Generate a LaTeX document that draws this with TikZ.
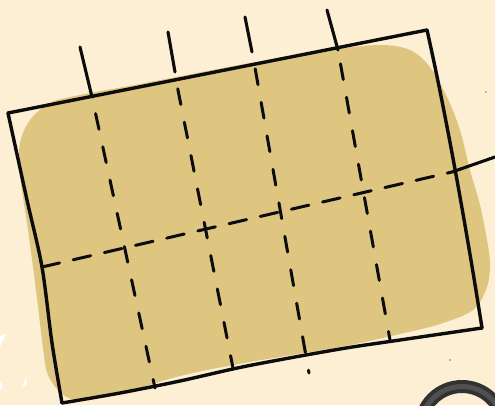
\documentclass[tikz,border=0pt]{standalone}
\definecolor{bgc}{RGB}{253,239,212}
\definecolor{blobc}{RGB}{222,198,128}
\definecolor{inkc}{RGB}{12,12,12}
\definecolor{ringc}{RGB}{50,50,50}
\definecolor{ringhi}{RGB}{100,100,100}
\begin{document}
\begin{tikzpicture}[x=1pt,y=-1pt,
  frameline/.style={draw=inkc, line width=3.4pt, line cap=round, line join=round},
  tickline/.style={draw=inkc, line width=3.1pt, line cap=round},
  dashv/.style={draw=inkc, line width=3pt, line cap=round, dash pattern=on 16pt off 18pt, dash phase=17pt},
  dashh/.style={draw=inkc, line width=3pt, line cap=round, dash pattern=on 18pt off 14pt}]
\fill[bgc] (0,0) rectangle (495,405);
\useasboundingbox (0,0) rectangle (495,405);

% tan blob
\fill[blobc] plot[smooth cycle, tension=0.55] coordinates {
 (70,97) (150,82) (250,63) (330,50) (380,45) (410,50) (430,67) (447,97)
 (460,130) (470,170) (480,205) (487,240) (490,263) (487,287) (473,310)
 (440,324) (400,334) (340,347) (250,362) (180,376) (120,394) (80,400)
 (62,394) (48,375) (43,348) (36,290) (28,230) (20,175) (20,143) (30,120) (48,104)};

% specks
\fill[gray] (450,360) circle (0.8);
\fill[gray] (486,92) circle (0.8);

% white marks bottom-left
\fill[white] (0,336) -- (7,333) -- (2,342) -- (0,347) -- cycle;
\fill[white] (0,380) -- (3,386) -- (0,391) -- cycle;
\fill[white] (26,376) -- (27,384) -- (22,388) -- (24,382) -- cycle;

% frame
\coordinate (tl) at (8,113);
\coordinate (tr) at (427,30);
\coordinate (br) at (482,328);
\coordinate (bl) at (62,403);
\draw[frameline] (tl) -- (tr);
\draw[frameline] (tr) .. controls (445,110) and (465,220) .. (br);
\draw[frameline] plot[smooth] coordinates {(482,328) (400,340) (340,349) (247,366) (180,381) (120,393) (62,403)};
\draw[frameline] plot[smooth] coordinates {(62,403) (52,343) (42,267) (27,200) (8,113)};

% top ticks
\draw[tickline] (80,47) -- (92,97);
\draw[tickline] (168,32) -- (175,72);
\draw[tickline] (245,17) -- (252,52);
\draw[tickline] (327,10) -- (338,50);

% vertical dashed lines
\draw[dashv] (92,97) -- (155,388);
\draw[dashv, dash phase=25pt] (176,80) -- (233,368);
\draw[dashv, dash phase=27pt] (254,62) -- (309,373);
\draw[dashv, dash phase=20pt] (338,50) -- (390,340);

% horizontal dashed line and solid extension
\draw[dashh] (42,267) -- (452,172);
\draw[tickline] (452,172) -- (495,157);

% ring at bottom right
\fill[ringc, even odd rule] (462,428) circle (48) (462,428) circle (35);
\draw[ringhi, line width=5pt, opacity=0.6] (462,428) circle (41.5);
\end{tikzpicture}
\end{document}
